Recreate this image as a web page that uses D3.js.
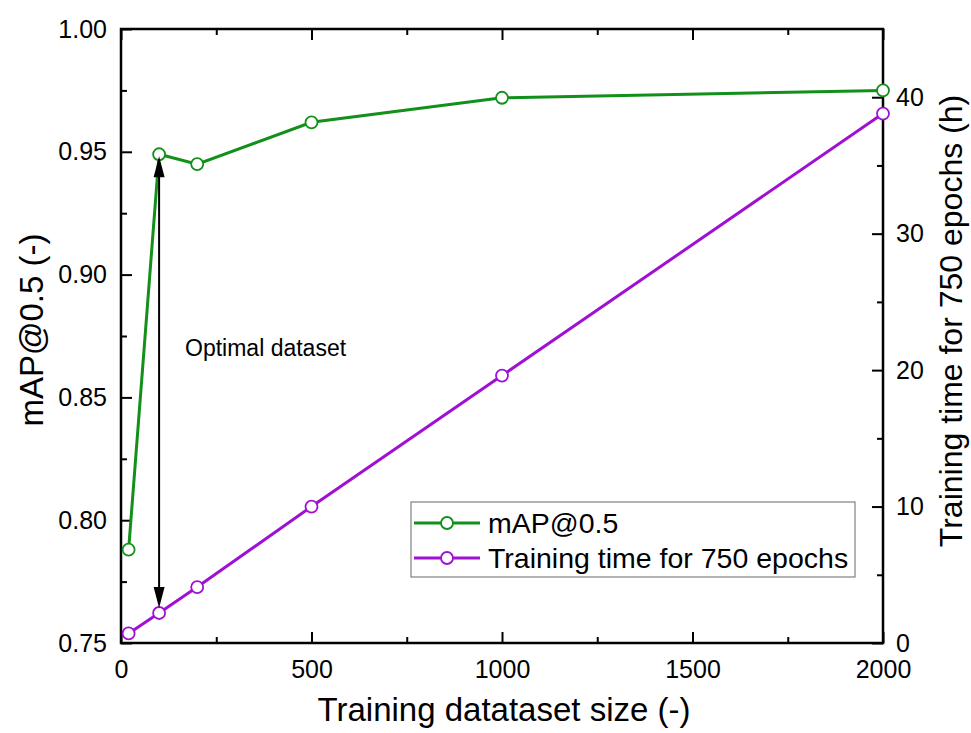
<!DOCTYPE html>
<html>
<head>
<meta charset="utf-8">
<script src="https://cdn.jsdelivr.net/npm/d3@7"></script>
<style>
  body { margin: 0; background: #fff; }
  text { font-family: "Liberation Sans", Arial, sans-serif; fill: #000; }
</style>
</head>
<body>
<svg width="971" height="733"></svg>
<script>
// data
const datasetSize = [20, 100, 200, 500, 1000, 2000];
const mapValues = [0.788, 0.949, 0.945, 0.962, 0.972, 0.975];
const trainHours = [0.7, 2.2, 4.1, 10.0, 19.6, 38.8];
const xTicks = [0, 500, 1000, 1500, 2000];
const yLeftTicks = [0.75, 0.80, 0.85, 0.90, 0.95, 1.00];
const yRightTicks = [0, 10, 20, 30, 40];

const margin = {top: 29, right: 88, bottom: 90, left: 121},
    width = 971 - margin.left - margin.right,
    height = 733 - margin.top - margin.bottom;

const green = "#12901a", purple = "#a010d4";

const svg = d3.select("svg")
    .append("g")
    .attr("transform", `translate(${margin.left},${margin.top})`);

const x = d3.scaleLinear().domain([0, 2000]).range([0, width]);
const yL = d3.scaleLinear().domain([0.75, 1.0]).range([height, 0]);
const yR = d3.scaleLinear().domain([0, 45]).range([height, 0]);

// minor ticks halfway between majors
const xMinor = d3.range(250, 2000, 500);
const yLMinor = d3.range(0.775, 1.0, 0.05);
const yRMinor = d3.range(5, 45, 10);

function styleAxis(g) {
    g.select(".domain").remove();
    g.selectAll(".tick line").attr("stroke", "#000").attr("stroke-width", 2);
    g.selectAll(".tick text").style("font-size", "25px");
}

// bottom axis
svg.append("g").attr("transform", `translate(0,${height})`)
    .call(d3.axisBottom(x).tickValues(xTicks).tickSize(-11).tickPadding(17).tickFormat(d3.format("d")))
    .call(styleAxis);
svg.append("g").attr("transform", `translate(0,${height})`)
    .call(d3.axisBottom(x).tickValues(xMinor).tickSize(-6).tickFormat(""))
    .call(styleAxis);
// top mirrored ticks
svg.append("g").call(d3.axisTop(x).tickValues(xTicks).tickSize(-11).tickFormat("")).call(styleAxis);
svg.append("g").call(d3.axisTop(x).tickValues(xMinor).tickSize(-6).tickFormat("")).call(styleAxis);

// left axis
svg.append("g")
    .call(d3.axisLeft(yL).tickValues(yLeftTicks).tickSize(-11).tickPadding(14).tickFormat(d3.format(".2f")))
    .call(styleAxis);
svg.append("g").call(d3.axisLeft(yL).tickValues(yLMinor).tickSize(-6).tickFormat("")).call(styleAxis);

// right axis
svg.append("g").attr("transform", `translate(${width},0)`)
    .call(d3.axisRight(yR).tickValues(yRightTicks).tickSize(-11).tickPadding(13))
    .call(styleAxis);
svg.append("g").attr("transform", `translate(${width},0)`)
    .call(d3.axisRight(yR).tickValues(yRMinor).tickSize(-6).tickFormat(""))
    .call(styleAxis);

// frame
svg.append("rect")
    .attr("width", width).attr("height", height)
    .attr("fill", "none").attr("stroke", "#000").attr("stroke-width", 2.5);

// series
const mapData = datasetSize.map((d, i) => ({x: d, y: mapValues[i]}));
const timeData = datasetSize.map((d, i) => ({x: d, y: trainHours[i]}));

function drawSeries(data, yScale, color) {
    svg.append("path")
        .datum(data)
        .attr("fill", "none")
        .attr("stroke", color)
        .attr("stroke-width", 3)
        .attr("d", d3.line().x(d => x(d.x)).y(d => yScale(d.y)));
    svg.selectAll(null)
        .data(data)
        .enter().append("circle")
        .attr("cx", d => x(d.x))
        .attr("cy", d => yScale(d.y))
        .attr("r", 6)
        .attr("fill", "#fff")
        .attr("stroke", color)
        .attr("stroke-width", 1.8);
}
drawSeries(mapData, yL, green);
drawSeries(timeData, yR, purple);

// double arrow at the optimal dataset size
const ax = x(100), aTop = yL(0.949) + 2, aBot = yR(2.2) - 5;
svg.append("line")
    .attr("x1", ax).attr("x2", ax)
    .attr("y1", aTop + 18).attr("y2", aBot - 18)
    .attr("stroke", "#000").attr("stroke-width", 2);
svg.append("path")
    .attr("d", `M${ax},${aTop} L${ax - 5.5},${aTop + 21} L${ax + 5.5},${aTop + 21} Z`)
    .attr("fill", "#000");
svg.append("path")
    .attr("d", `M${ax},${aBot} L${ax - 5.5},${aBot - 21} L${ax + 5.5},${aBot - 21} Z`)
    .attr("fill", "#000");

svg.append("text")
    .attr("x", 185 - margin.left).attr("y", 356 - margin.top)
    .style("font-size", "23px")
    .text("Optimal dataset");

// legend
const legend = svg.append("g").attr("transform", `translate(${411 - margin.left},${502 - margin.top})`);
legend.append("rect")
    .attr("width", 444).attr("height", 75)
    .attr("fill", "#fff").attr("stroke", "#808080").attr("stroke-width", 1.2);
const legendItems = [
    {label: "mAP@0.5", color: green},
    {label: "Training time for 750 epochs", color: purple}
];
legendItems.forEach((item, i) => {
    const cy = 21 + i * 35;
    legend.append("line")
        .attr("x1", 3).attr("x2", 69).attr("y1", cy).attr("y2", cy)
        .attr("stroke", item.color).attr("stroke-width", 3);
    legend.append("circle")
        .attr("cx", 36).attr("cy", cy).attr("r", 6)
        .attr("fill", "#fff").attr("stroke", item.color).attr("stroke-width", 1.8);
    legend.append("text")
        .attr("x", 77).attr("y", cy).attr("dy", "0.36em")
        .style("font-size", "28.5px")
        .text(item.label);
});

// axis titles
svg.append("text")
    .attr("x", width / 2 + 2).attr("y", 721 - margin.top)
    .attr("text-anchor", "middle")
    .style("font-size", "33px")
    .text("Training datataset size (-)");

svg.append("text")
    .attr("transform", `translate(${43 - margin.left},${330 - margin.top}) rotate(-90)`)
    .attr("text-anchor", "middle")
    .style("font-size", "33px")
    .text("mAP@0.5 (-)");

svg.append("text")
    .attr("transform", `translate(${962 - margin.left},${321 - margin.top}) rotate(-90)`)
    .attr("text-anchor", "middle")
    .style("font-size", "32px")
    .text("Training time for 750 epochs (h)");
</script>
</body>
</html>
